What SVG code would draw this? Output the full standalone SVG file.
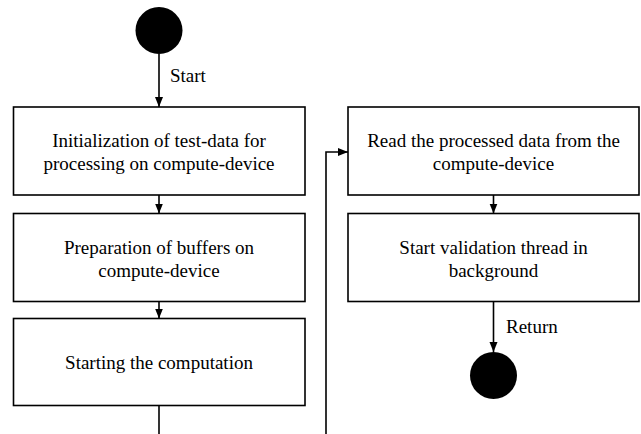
<svg xmlns="http://www.w3.org/2000/svg" width="641" height="434" viewBox="0 0 641 434">
<style>
.box{fill:#fff;stroke:#000;stroke-width:1.6}
.t{font-family:"Liberation Serif","Times New Roman",serif;font-size:19px;fill:#000;text-anchor:middle}
.l{font-family:"Liberation Serif","Times New Roman",serif;font-size:19px;fill:#000}
.c{fill:none;stroke:#000;stroke-width:1.6}
</style>
<defs>
<marker id="ah" viewBox="0 0 10 10" refX="10" refY="5" markerWidth="10" markerHeight="10" markerUnits="userSpaceOnUse" orient="auto">
<path d="M0,1 L10,5 L0,9 Z" fill="#000"/>
</marker>
</defs>
<rect width="641" height="434" fill="#fff"/>
<g id="start"><circle cx="159" cy="30.5" r="23.5" fill="#000"/></g>
<g id="n1"><rect class="box" x="13.5" y="107" width="291.5" height="88"/>
<text class="t" x="159" y="147">Initialization of test-data for</text>
<text class="t" x="159" y="170">processing on compute-device</text></g>
<g id="n2"><rect class="box" x="13.5" y="213.5" width="291.5" height="88"/>
<text class="t" x="159" y="254">Preparation of buffers on</text>
<text class="t" x="159" y="277">compute-device</text></g>
<g id="n3"><rect class="box" x="13.5" y="318.5" width="291.5" height="87"/>
<text class="t" x="159" y="369">Starting the computation</text></g>
<g id="n4"><rect class="box" x="348" y="107" width="291" height="88"/>
<text class="t" x="493.5" y="147">Read the processed data from the</text>
<text class="t" x="493.5" y="170">compute-device</text></g>
<g id="n5"><rect class="box" x="348" y="213.5" width="291" height="88"/>
<text class="t" x="493.5" y="254">Start validation thread in</text>
<text class="t" x="493.5" y="277">background</text></g>
<g id="end"><circle cx="493.5" cy="375.5" r="23.5" fill="#000"/></g>
<g id="connectors">
<path class="c" d="M159,54 L159,107" marker-end="url(#ah)"/>
<text class="l" x="170" y="82">Start</text>
<path class="c" d="M159,195 L159,213.5" marker-end="url(#ah)"/>
<path class="c" d="M159,301.5 L159,318.5" marker-end="url(#ah)"/>
<path class="c" d="M159,405.5 L159,434"/>
<path class="c" d="M326,434 L326,152 L348,152" marker-end="url(#ah)"/>
<path class="c" d="M493.5,195 L493.5,213.5" marker-end="url(#ah)"/>
<path class="c" d="M493.5,301.5 L493.5,352" marker-end="url(#ah)"/>
<text class="l" x="506" y="333">Return</text>
</g>
</svg>
